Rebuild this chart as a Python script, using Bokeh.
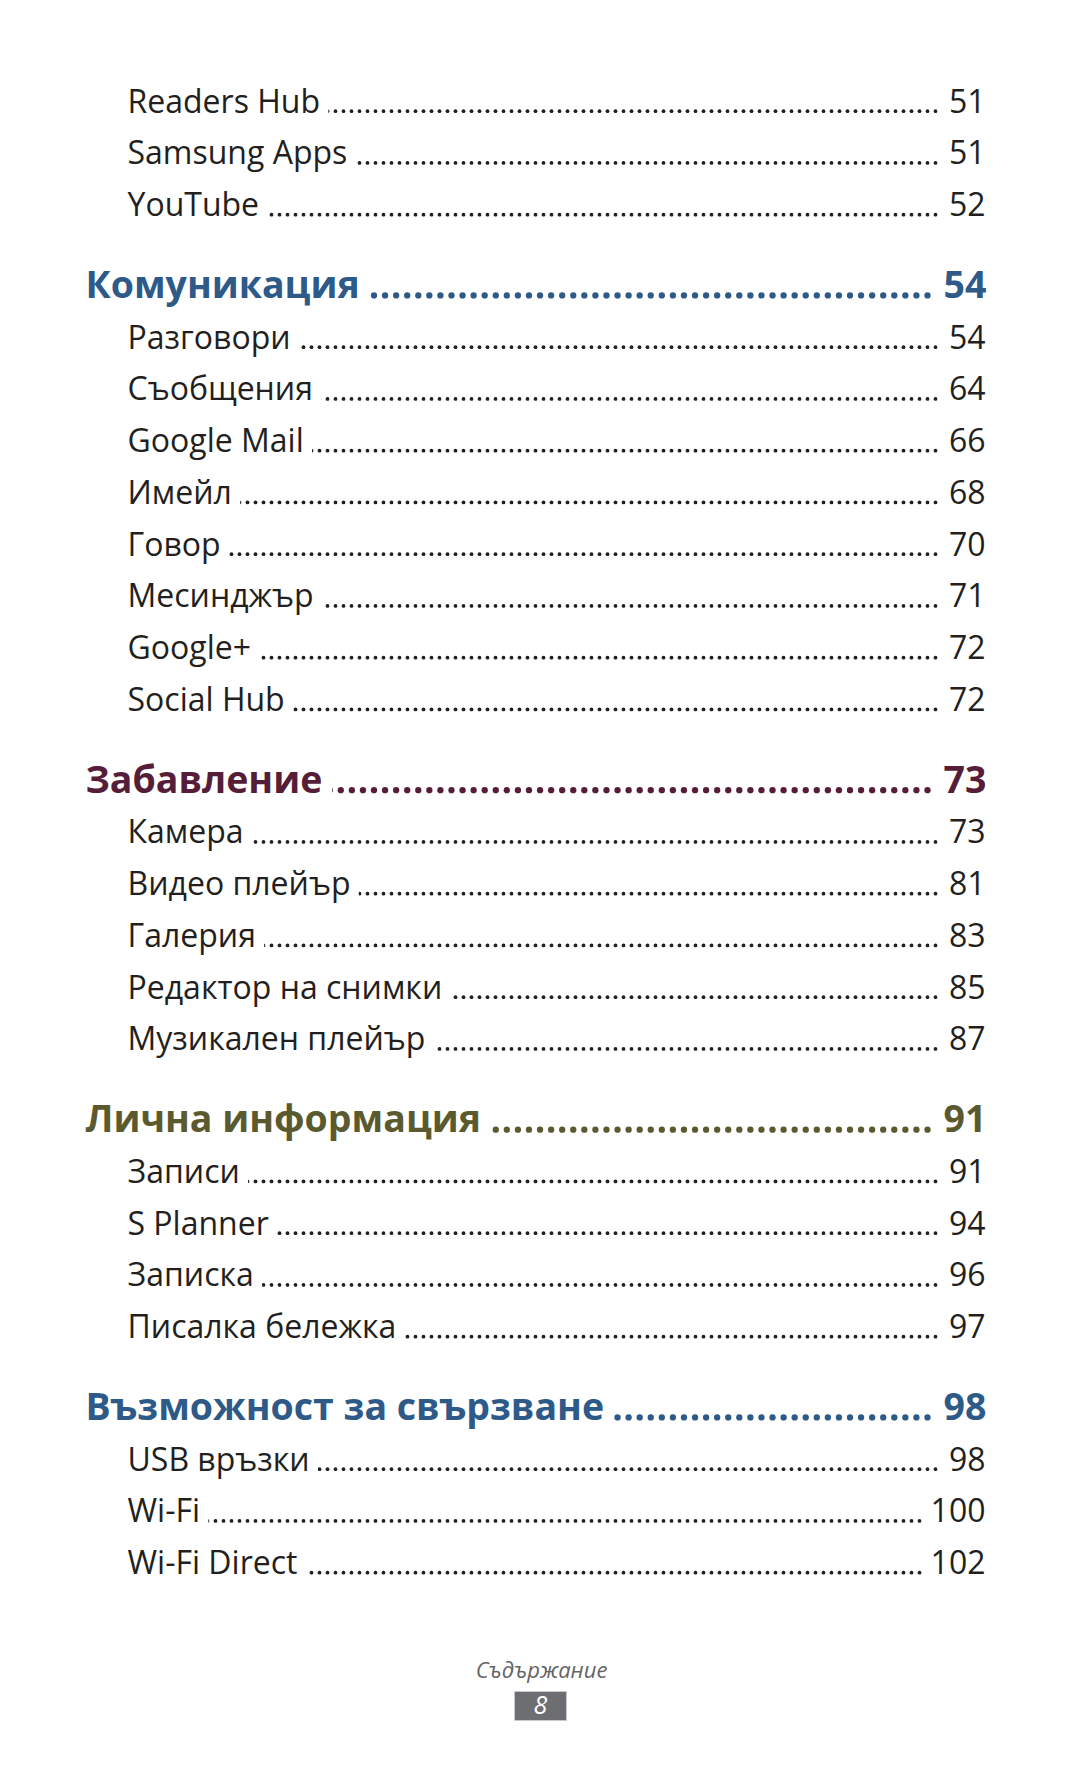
from bokeh.plotting import figure
from bokeh.models import ColumnDataSource, Range1d
from bokeh.embed import file_html
from bokeh.resources import INLINE
from bokeh.core.properties import value
import numpy as np

# ---- data: table of contents ----
lead_items = ["Readers Hub", "Samsung Apps", "YouTube"]
lead_pages = [51, 51, 52]

section_titles = ["Комуникация", "Забавление", "Лична информация", "Възможност за свързване"]
section_pages = [54, 73, 91, 98]

comm_items = ["Разговори", "Съобщения", "Google Mail", "Имейл", "Говор", "Месинджър", "Google+", "Social Hub"]
comm_pages = [54, 64, 66, 68, 70, 71, 72, 72]

fun_items = ["Камера", "Видео плейър", "Галерия", "Редактор на снимки", "Музикален плейър"]
fun_pages = [73, 81, 83, 85, 87]

pim_items = ["Записи", "S Planner", "Записка", "Писалка бележка"]
pim_pages = [91, 94, 96, 97]

conn_items = ["USB връзки", "Wi-Fi", "Wi-Fi Direct"]
conn_pages = [98, 100, 102]

footer_label = "Съдържание"
page_number = "8"

# ---- styles ----
section_colors = ["#2d5a89", "#561d38", "#5b5a2f", "#2d5a89"]
text_color = "#231f20"
FONT = value("Open Sans")
NB = "\u00a0"
FS_SUB, FS_HEAD = 32, 37.5
SHIFT = 0.42  # baseline correction (in em) for text rendering

# ---- layout ----
X_SUB, X_HEAD, X_NUM = 127, 85, 985
SUB_STEP, HEAD_GAP, HEAD_TO_SUB = 51.75, 82, 50.5

sub_rows = []
head_rows = []
y = 113
for t, pg in zip(lead_items, lead_pages):
    sub_rows.append((t, pg, y)); y += SUB_STEP
y -= SUB_STEP
groups = [comm_items, fun_items, pim_items, conn_items]
gpages = [comm_pages, fun_pages, pim_pages, conn_pages]
for i, (ht, hp) in enumerate(zip(section_titles, section_pages)):
    y += HEAD_GAP
    head_rows.append((ht, hp, y, section_colors[i]))
    y += HEAD_TO_SUB
    for t, pg in zip(groups[i], gpages[i]):
        sub_rows.append((t, pg, y)); y += SUB_STEP
    y -= SUB_STEP

W, H = 1064, 1755
p = figure(width=W, height=H, x_range=Range1d(0, W), y_range=Range1d(H, 0),
           output_backend="svg", toolbar_location=None, min_border=0,
           x_axis_location=None, y_axis_location=None,
           background_fill_color="white", border_fill_color="white", outline_line_color=None)
p.grid.visible = False

# dot leaders
sdx, sdy = [], []
for t, pg, yy in sub_rows:
    xs = np.arange(935, X_SUB, -8.0)
    sdx += list(xs); sdy += [yy - 2.3] * len(xs)
p.scatter(sdx, sdy, marker="circle", size=3.8, color=text_color, line_color=None)

for t, pg, yy, c in head_rows:
    xs = np.arange(927, X_HEAD + 5, -11.07)
    p.scatter(xs, [yy - 3.6] * len(xs), marker="circle", size=6.3, color=c, line_color=None)

sub_src = ColumnDataSource(dict(
    x=[X_SUB] * len(sub_rows), xn=[X_NUM] * len(sub_rows),
    y=[r[2] - SHIFT * FS_SUB for r in sub_rows], t=[r[0] + NB for r in sub_rows],
    n=[NB + str(r[1]) for r in sub_rows]))
p.text(x="x", y="y", text="t", source=sub_src, text_font=FONT, text_font_size=f"{FS_SUB}px",
       text_color=text_color, text_baseline="alphabetic", text_align="left",
       background_fill_color="white")
p.text(x="xn", y="y", text="n", source=sub_src, text_font=FONT, text_font_size=f"{FS_SUB}px",
       text_color=text_color, text_baseline="alphabetic", text_align="right",
       background_fill_color="white")

head_src = ColumnDataSource(dict(
    x=[X_HEAD] * len(head_rows), xn=[X_NUM + 1] * len(head_rows),
    y=[r[2] - SHIFT * FS_HEAD for r in head_rows], t=[r[0] + NB for r in head_rows],
    n=[NB + str(r[1]) for r in head_rows], c=[r[3] for r in head_rows]))
p.text(x="x", y="y", text="t", source=head_src, text_font=FONT, text_font_size=f"{FS_HEAD}px",
       text_font_style="bold", text_color="c", text_baseline="alphabetic", text_align="left",
       background_fill_color="white")
p.text(x="xn", y="y", text="n", source=head_src, text_font=FONT, text_font_size=f"{FS_HEAD}px",
       text_font_style="bold", text_color="c", text_baseline="alphabetic", text_align="right",
       background_fill_color="white")

# footer
p.text(x=[541], y=[1678 - SHIFT * 22], text=[footer_label], text_font=FONT, text_font_size="22px",
       text_font_style="italic", text_color="#646567", text_baseline="alphabetic", text_align="center")
p.quad(left=[514], right=[566], top=[1691], bottom=[1720], fill_color="#6d6e71",
       line_color="#c8c9cb", line_width=1)
p.text(x=[540], y=[1715 - SHIFT * 25], text=[page_number], text_font=FONT, text_font_size="25px",
       text_font_style="italic", text_color="white", text_baseline="alphabetic", text_align="center")

open("out.html", "w").write(file_html(p, INLINE))
